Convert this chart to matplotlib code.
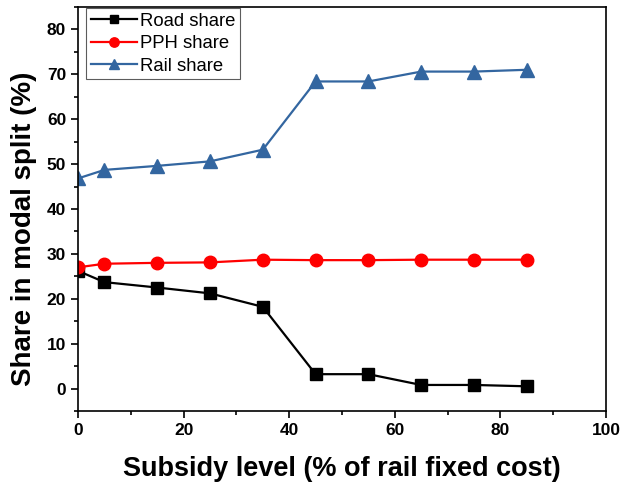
import numpy as np
import matplotlib.pyplot as plt
from matplotlib.ticker import MultipleLocator

plt.rcParams['font.family'] = ['Liberation Sans', 'DejaVu Sans']

subsidy = [0, 5, 15, 25, 35, 45, 55, 65, 75, 85]
road = [26.2, 23.7, 22.5, 21.2, 18.2, 3.2, 3.2, 0.8, 0.8, 0.5]
pph = [27.0, 27.8, 28.0, 28.1, 28.7, 28.6, 28.6, 28.7, 28.7, 28.7]
rail = [46.8, 48.7, 49.6, 50.6, 53.2, 68.4, 68.4, 70.6, 70.6, 71.0]

fig = plt.figure(figsize=(6.38, 4.88), dpi=100)
ax = fig.add_axes([0.1223, 0.1578, 0.8275, 0.828])

ax.plot(subsidy, road, color='black', marker='s', ms=8.5, lw=1.6, label='Road share')
ax.plot(subsidy, pph, color='#ff0000', marker='o', ms=9, lw=1.6, label='PPH share')
ax.plot(subsidy, rail, color='#3366a0', marker='^', ms=10, lw=1.6, label='Rail share')

ax.set_xlim(0, 100)
ax.set_ylim(-5, 85)
ax.xaxis.set_major_locator(MultipleLocator(20))
ax.xaxis.set_minor_locator(MultipleLocator(10))
ax.yaxis.set_major_locator(MultipleLocator(10))
ax.yaxis.set_minor_locator(MultipleLocator(5))
ax.tick_params(which='both', direction='out', top=False, right=False, width=1.2)
ax.tick_params(which='major', length=5, labelsize=12.5)
ax.tick_params(which='minor', length=3)
for lbl in ax.get_xticklabels() + ax.get_yticklabels():
    lbl.set_fontweight('bold')
for sp in ax.spines.values():
    sp.set_linewidth(1.2)

ax.set_xlabel('Subsidy level (% of rail fixed cost)', fontsize=19.5, fontweight='bold', labelpad=13)
ax.set_ylabel('Share in modal split (%)', fontsize=20, fontweight='bold')
ax.yaxis.set_label_coords(-0.077, 0.45)

leg = ax.legend(loc='upper left', bbox_to_anchor=(0.015, 0.997), fontsize=13.3,
                frameon=True, fancybox=False, edgecolor='#333333',
                borderpad=0.25, labelspacing=0.3, handlelength=2.5,
                handletextpad=0.2, borderaxespad=0.0, markerscale=0.75)
leg.get_frame().set_linewidth(0.8)

fig.savefig('out.png', dpi=100)
